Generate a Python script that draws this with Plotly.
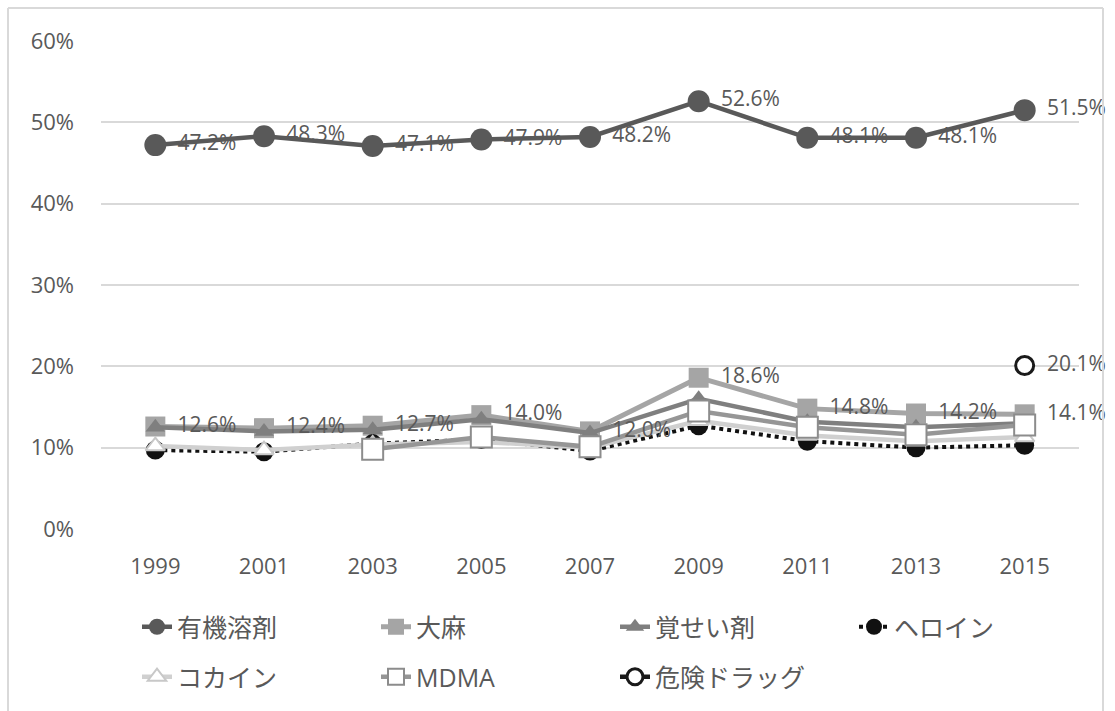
import plotly.graph_objects as go

years = ["1999", "2001", "2003", "2005", "2007", "2009", "2011", "2013", "2015"]
organic = [47.2, 48.3, 47.1, 47.9, 48.2, 52.6, 48.1, 48.1, 51.5]
cannabis = [12.6, 12.4, 12.7, 14.0, 12.0, 18.6, 14.8, 14.2, 14.1]
stimulants = [12.5, 12.0, 12.2, 13.5, 11.8, 16.0, 13.2, 12.5, 13.0]
heroin = [9.7, 9.5, 10.5, 11.0, 9.6, 12.7, 10.8, 10.0, 10.3]
cocaine = [10.2, 9.7, 10.4, 10.7, 10.0, 13.3, 11.5, 10.8, 11.3]
mdma = [None, None, 9.8, 11.3, 10.1, 14.5, 12.5, 11.6, 12.8]
dangerous = [None, None, None, None, None, None, None, None, 20.1]

names = ["有機溶剤", "大麻", "覚せい剤", "ヘロイン", "コカイン", "MDMA", "危険ドラッグ"]

def frac(v):
    return [None if x is None else x / 100 for x in v]

FONT = "Open Sans, Noto Sans CJK JP, sans-serif"
TXT = "#595959"

fig = go.Figure()
fig.add_trace(go.Scatter(x=years, y=frac(organic), name=names[0], mode="lines+markers",
                         line=dict(color="#595959", width=4.5),
                         marker=dict(symbol="circle", size=22, color="#595959"), legend="legend"))
fig.add_trace(go.Scatter(x=years, y=frac(cannabis), name=names[1], mode="lines+markers",
                         line=dict(color="#A5A5A5", width=5),
                         marker=dict(symbol="square", size=20, color="#A5A5A5"), legend="legend"))
fig.add_trace(go.Scatter(x=years, y=frac(stimulants), name=names[2], mode="lines+markers",
                         line=dict(color="#7F7F7F", width=4.5),
                         marker=dict(symbol="triangle-up", size=17, color="#7F7F7F"), legend="legend"))
fig.add_trace(go.Scatter(x=years, y=frac(heroin), name=names[3], mode="lines+markers",
                         line=dict(color="#111111", width=4, dash="dot"),
                         marker=dict(symbol="circle", size=19, color="#111111"), legend="legend"))
fig.add_trace(go.Scatter(x=years, y=frac(cocaine), name=names[4], mode="lines+markers",
                         line=dict(color="#D0D0D0", width=4.5),
                         marker=dict(symbol="triangle-up", size=17, color="white",
                                     line=dict(color="#C8C8C8", width=2)), legend="legend2"))
fig.add_trace(go.Scatter(x=years, y=frac(mdma), name=names[5], mode="lines+markers",
                         line=dict(color="#969696", width=4.5),
                         marker=dict(symbol="square", size=21, color="white",
                                     line=dict(color="#8C8C8C", width=2)), legend="legend2"))
fig.add_trace(go.Scatter(x=years, y=frac(dangerous), name=names[6], mode="lines+markers",
                         line=dict(color="#1A1A1A", width=4.5),
                         marker=dict(symbol="circle", size=18, color="white",
                                     line=dict(color="#1A1A1A", width=3)), legend="legend2"))

# data labels (transparent markers to push the text off the points)
def label_trace(vals):
    return go.Scatter(x=years, y=frac(vals), mode="markers+text", showlegend=False,
                      hoverinfo="skip", cliponaxis=False,
                      marker=dict(size=34, color="rgba(0,0,0,0)"),
                      text=[None if v is None else f"{v:.1f}%" for v in vals],
                      textposition="middle right",
                      textfont=dict(family=FONT, size=21, color=TXT))

fig.add_trace(label_trace(organic))
fig.add_trace(label_trace(cannabis))
fig.add_trace(label_trace(dangerous))

L, R, T, B = 101, 36, 41, 181
W, H = 1115, 711
pw, ph = W - L - R, H - T - B

def px(xp):
    return (xp - L) / pw

def py(yp):
    return (H - B - yp) / ph

legend_common = dict(orientation="h", xanchor="left", yanchor="middle",
                     entrywidth=194, entrywidthmode="pixels",
                     font=dict(family=FONT, size=25, color=TXT), bgcolor="rgba(0,0,0,0)")

fig.update_layout(
    width=W, height=H,
    margin=dict(l=L, r=R, t=T, b=B),
    paper_bgcolor="white", plot_bgcolor="white",
    font=dict(family=FONT, size=22, color=TXT),
    xaxis=dict(type="category", range=[-0.5, 8.5], showgrid=False, zeroline=False,
               showline=False, ticks="", ticklabelstandoff=22,
               tickfont=dict(family=FONT, size=22, color=TXT)),
    yaxis=dict(range=[0, 0.6], dtick=0.1, tickformat=".0%", showgrid=True,
               gridcolor="#D9D9D9", gridwidth=1.5, zeroline=False, showline=False,
               ticks="", ticklabelstandoff=26,
               tickfont=dict(family=FONT, size=22, color=TXT)),
    legend=dict(x=px(137), y=py(627), **legend_common),
    legend2=dict(x=px(137), y=py(677), **legend_common),
    showlegend=True,
    shapes=[
        dict(type="line", xref="paper", yref="paper", x0=px(8), x1=px(8), y0=py(8), y1=py(720),
             line=dict(color="#D9D9D9", width=2)),
        dict(type="line", xref="paper", yref="paper", x0=px(8), x1=px(1103), y0=py(8), y1=py(8),
             line=dict(color="#D9D9D9", width=2)),
        dict(type="line", xref="paper", yref="paper", x0=px(1103), x1=px(1103), y0=py(8), y1=py(720),
             line=dict(color="#D9D9D9", width=2)),
    ],
)

fig.write_html("out.html", config={"displayModeBar": False},
               post_script="document.body.style.margin='0';")
